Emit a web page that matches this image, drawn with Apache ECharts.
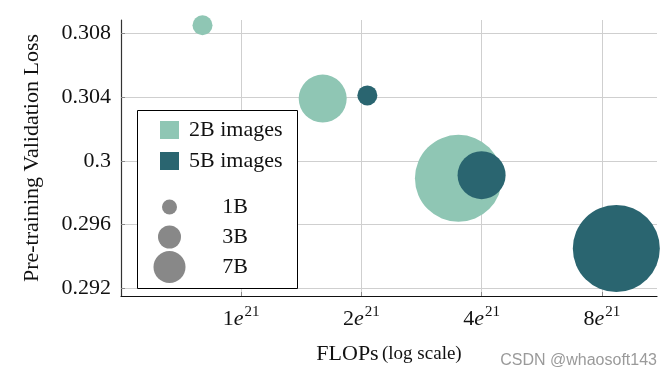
<!DOCTYPE html>
<html>
<head>
<meta charset="utf-8">
<script src="https://cdn.jsdelivr.net/npm/echarts@6/dist/echarts.min.js"></script>
<style>
  html, body { margin: 0; padding: 0; background: #fff; }
  #chart { width: 672px; height: 376px; }
</style>
</head>
<body>
<div id="chart"></div>
<script>
// FLOPs in units of 1e21, loss values
const seriesNames = ['2B images', '5B images']
const modelSizes = ['1B', '3B', '7B']
const modelParams = [1, 3, 7]
const flops2B = [0.8, 1.6, 3.5]
const loss2B = [0.3085, 0.3039, 0.2989]
const flops5B = [2.07, 4.0, 8.7]
const loss5B = [0.3041, 0.2991, 0.2945]
const xTicks = [1, 2, 4, 8]
const yTicks = [0.292, 0.296, 0.3, 0.304, 0.308]

const colors = ['#8fc6b4', '#2a6570']
const serif = 'Liberation Serif'
// bubble diameter per model size (px)
const bubblePx = { 1: 20, 3: 48, 7: 87 }
const legendPx = { 1: 15, 3: 23, 7: 32 }

const toPoints = (xs, ys) => xs.map((x, i) => [x, ys[i], modelParams[i]])

let chart = echarts.init(document.getElementById('chart'))

let legendGraphics = [{
    type: 'rect',
    shape: { x: 137.5, y: 110.5, width: 160, height: 178 },
    style: { fill: '#fff', stroke: '#000', lineWidth: 1 },
    z: 10
}]
seriesNames.forEach((name, i) => {
    legendGraphics.push({
        type: 'rect',
        shape: { x: 160, y: 121 + i * 31, width: 19, height: 18 },
        style: { fill: colors[i] },
        z: 11
    })
    legendGraphics.push({
        type: 'text',
        x: 189, y: 130 + i * 31,
        style: { text: name, font: '22px ' + serif, fill: '#111', textVerticalAlign: 'middle' },
        z: 11
    })
})
const legendRows = [207, 237, 267]
modelSizes.forEach((name, i) => {
    legendGraphics.push({
        type: 'circle',
        shape: { cx: 169.5, cy: legendRows[i], r: legendPx[modelParams[i]] / 2 },
        style: { fill: '#888' },
        z: 11
    })
    legendGraphics.push({
        type: 'text',
        x: 235, y: legendRows[i],
        style: { text: name, font: '22px ' + serif, fill: '#111', textAlign: 'center', textVerticalAlign: 'middle' },
        z: 11
    })
})
legendGraphics.push({
    type: 'text',
    right: 15, top: 353,
    style: { text: 'CSDN @whaosoft143', font: '16px Liberation Sans', fill: '#9a9a9a' },
    z: 11
})

let option = {
    animation: false,
    grid: { left: 121, right: 15, top: 20, bottom: 80 },
    xAxis: {
        type: 'log',
        logBase: 2,
        min: 0.5,
        max: 11,
        name: '{a|FLOPs} {b|(log scale)}',
        nameLocation: 'middle',
        nameGap: 47,
        nameTextStyle: {
            rich: {
                a: { fontFamily: serif, fontSize: 22, color: '#111' },
                b: { fontFamily: serif, fontSize: 19, color: '#111' }
            }
        },
        axisLine: { show: true, lineStyle: { color: '#111', width: 1.2 } },
        axisTick: { show: true, inside: true, length: 4, lineStyle: { color: '#888' }, customValues: xTicks },
        axisLabel: {
            customValues: xTicks,
            margin: 9,
            formatter: v => xTicks.indexOf(Math.round(v)) < 0 ? '' : '{n|' + Math.round(v) + '}{e|e}{s|21}',
            rich: {
                n: { fontFamily: serif, fontSize: 22, color: '#111' },
                e: { fontFamily: serif, fontStyle: 'italic', fontSize: 22, color: '#111' },
                s: { fontFamily: serif, fontSize: 15, color: '#111', padding: [0, 0, 13, 1] }
            }
        },
        splitLine: { show: true, lineStyle: { color: '#cfcfcf', width: 1 } }
    },
    yAxis: {
        type: 'value',
        min: 0.29152,
        max: 0.30883,
        name: 'Pre-training Validation Loss',
        nameLocation: 'middle',
        nameGap: 78,
        nameTextStyle: { fontFamily: serif, fontSize: 22, color: '#111' },
        axisLine: { show: true, lineStyle: { color: '#333', width: 1.2 } },
        axisTick: { show: true, inside: true, length: 4, lineStyle: { color: '#888' }, customValues: yTicks },
        axisLabel: {
            customValues: yTicks,
            margin: 10,
            fontFamily: serif,
            fontSize: 22,
            color: '#111',
            formatter: v => String(+v.toFixed(3))
        },
        splitLine: { show: true, lineStyle: { color: '#cfcfcf', width: 1 } }
    },
    graphic: legendGraphics,
    series: [{
        name: seriesNames[0],
        type: 'scatter',
        clip: false,
        data: toPoints(flops2B, loss2B),
        symbolSize: d => bubblePx[d[2]],
        itemStyle: { color: colors[0], opacity: 1 }
    }, {
        name: seriesNames[1],
        type: 'scatter',
        clip: false,
        data: toPoints(flops5B, loss5B),
        symbolSize: d => bubblePx[d[2]],
        itemStyle: { color: colors[1], opacity: 1 }
    }]
}

chart.setOption(option)
</script>
</body>
</html>
